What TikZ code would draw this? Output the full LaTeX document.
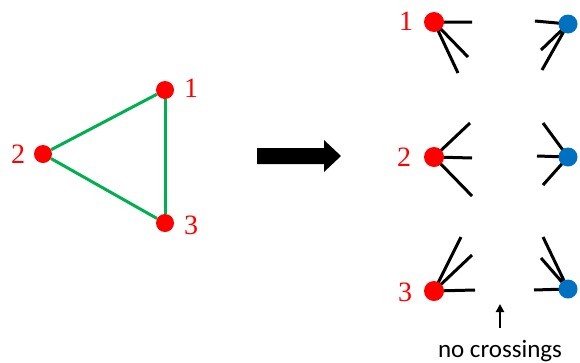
\documentclass[tikz,border=0pt]{standalone}
\usepackage{fontspec}
\setmainfont{Liberation Serif}
\newfontfamily\notefont{Carlito}
\usetikzlibrary{arrows.meta}
\definecolor{vred}{RGB}{255,0,0}
\definecolor{vblue}{RGB}{0,112,192}
\definecolor{egreen}{RGB}{0,176,80}
\begin{document}
\begin{tikzpicture}[x=1pt,y=-1pt,
  redv/.style={circle,fill=vred,inner sep=0pt,minimum size=18pt},
  redbig/.style={circle,fill=vred,inner sep=0pt,minimum size=20pt},
  bluev/.style={circle,fill=vblue,inner sep=0pt,minimum size=19pt},
  vlabel/.style={text=vred,font=\fontsize{28}{28}\selectfont,inner sep=0pt},
  edge/.style={draw=egreen,line width=3pt},
  stub/.style={draw=black,line width=3pt},
  bigarrow/.style={fill=black}]
\useasboundingbox (0,0) rectangle (580,362);

% left triangle
\node[redv] (n1) at (165,90) {};
\node[redv] (n2) at (43,154) {};
\node[redv] (n3) at (165,223) {};
\node[vlabel] (l1) at (191,88) {1};
\node[vlabel] (l2) at (18,154) {2};
\node[vlabel] (l3) at (191,225) {3};
\draw[edge] (n1) -- (n2);
\draw[edge] (n2) -- (n3);
\draw[edge] (n1) -- (n3);

% big arrow
\fill[bigarrow] (257,148) -- (324,148) -- (324,140) -- (341,156) -- (324,172) -- (324,164) -- (257,164) -- cycle;

% right side: coordinates of free ends
\coordinate (r1a) at (472,22);
\coordinate (r1b) at (468,57);
\coordinate (r1c) at (458,73);
\coordinate (b1a) at (535,21);
\coordinate (b1b) at (541,50);
\coordinate (b1c) at (542,70);

\coordinate (r2a) at (470,123);
\coordinate (r2b) at (472,158);
\coordinate (r2c) at (472,196);
\coordinate (b2a) at (543,123);
\coordinate (b2b) at (537,156);
\coordinate (b2c) at (543,185);

\coordinate (r3a) at (461,237);
\coordinate (r3b) at (472,255);
\coordinate (r3c) at (475,290);
\coordinate (b3a) at (543,237);
\coordinate (b3b) at (541,258);
\coordinate (b3c) at (534,290);

\draw[stub] (434,22) -- (r1a) (434,22) -- (r1b) (434,22) -- (r1c);
\draw[stub] (568,24) -- (b1a) (568,24) -- (b1b) (568,24) -- (b1c);
\draw[stub] (434,157) -- (r2a) (434,157) -- (r2b) (434,157) -- (r2c);
\draw[stub] (568,157) -- (b2a) (568,157) -- (b2b) (568,157) -- (b2c);
\draw[stub] (434,291) -- (r3a) (434,291) -- (r3b) (434,291) -- (r3c);
\draw[stub] (568,289) -- (b3a) (568,289) -- (b3b) (568,289) -- (b3c);

\node[redbig] (m1) at (434,22) {};
\node[bluev] (p1) at (568,24) {};
\node[redbig] (m2) at (434,157) {};
\node[bluev] (p2) at (568,157) {};
\node[redbig] (m3) at (434,291) {};
\node[bluev] (p3) at (568,289) {};

\node[vlabel] (k1) at (406,21) {1};
\node[vlabel] (k2) at (404,157) {2};
\node[vlabel] (k3) at (405,292) {3};

% no crossings
\coordinate (ua) at (500,328);
\coordinate (ub) at (500,304);
\draw[line width=2.5pt,-{Triangle[length=8pt,width=8pt]}] (ua) -- (ub);
\node[anchor=base,inner sep=0pt,font=\notefont\fontsize{25}{25}\selectfont] (nc) at (500,357) {no crossings};
\end{tikzpicture}
\end{document}
